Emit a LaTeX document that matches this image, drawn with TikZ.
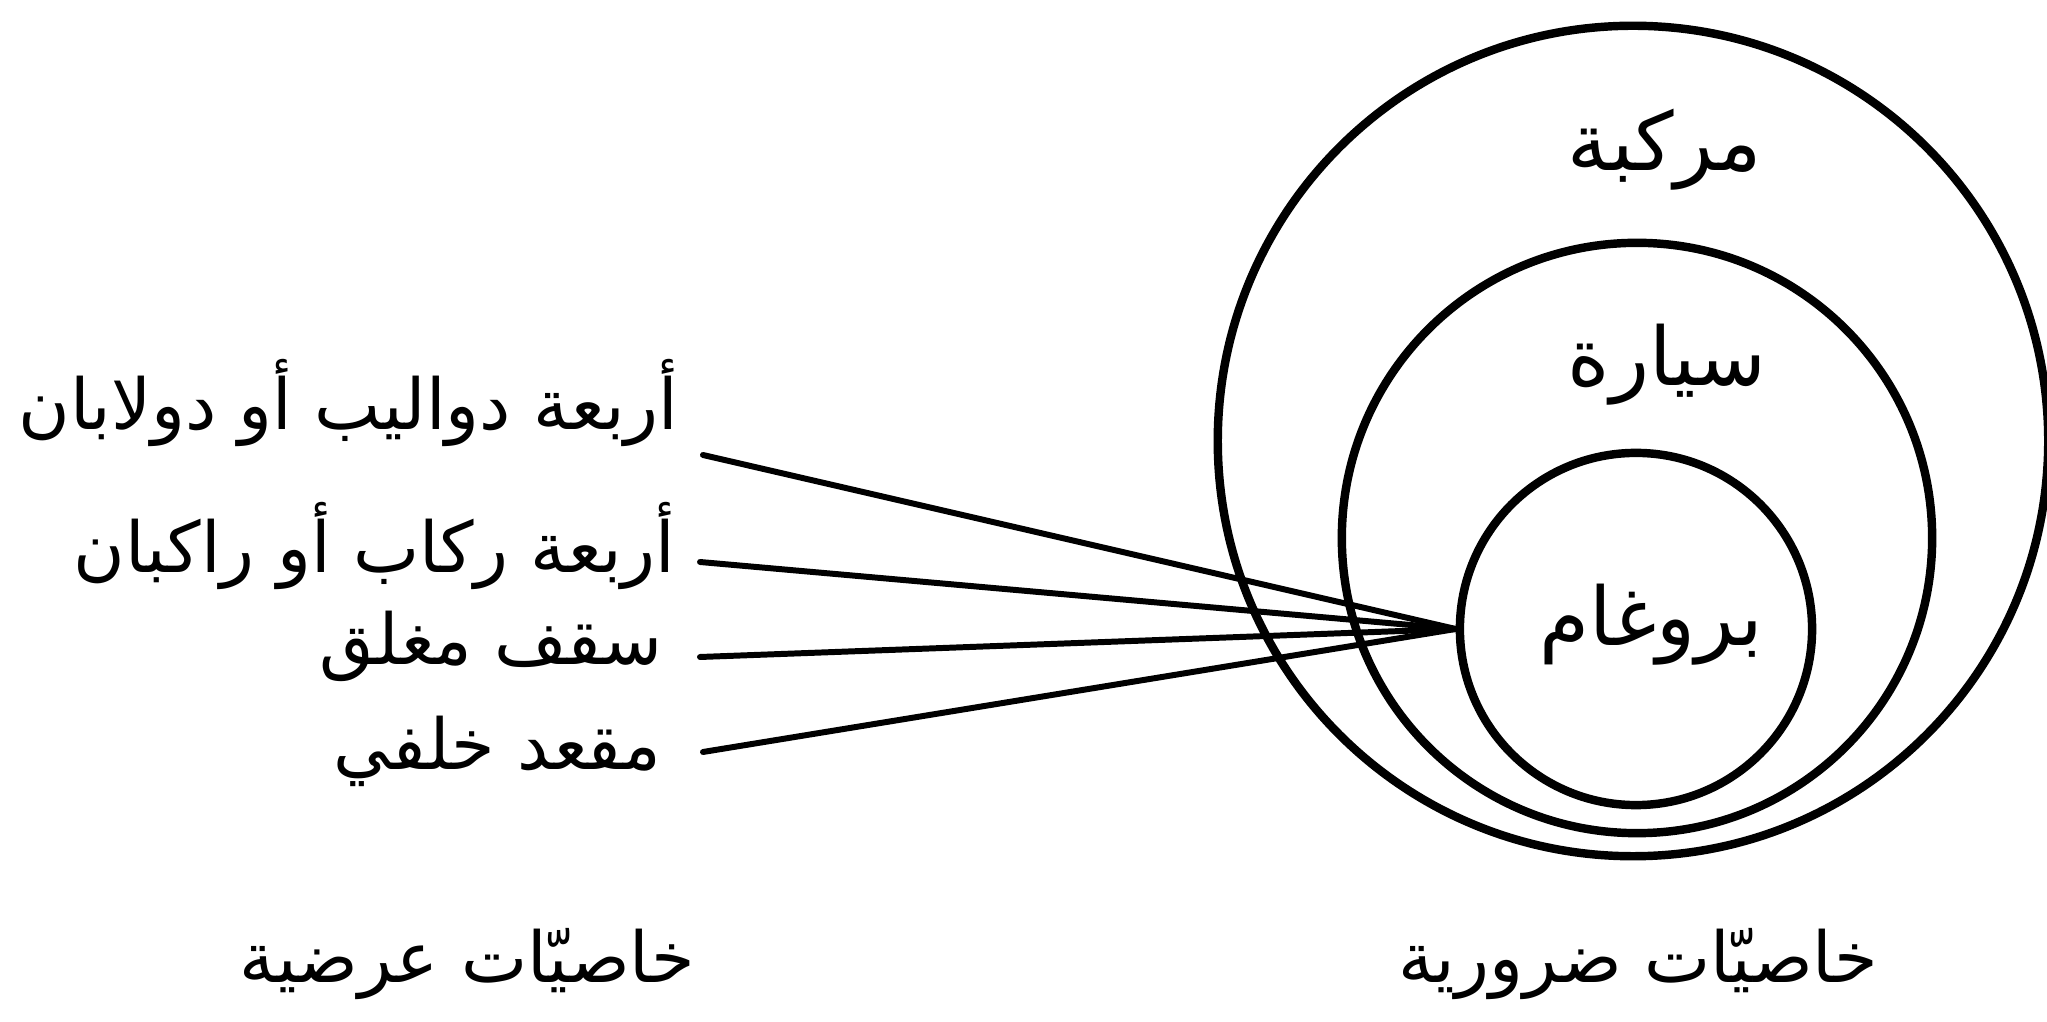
\documentclass[tikz,border=0pt]{standalone}
\usepackage{fontspec}
\newfontfamily\arabicfont[Script=Arabic]{DejaVu Sans}
\TeXXeTstate=1
\usetikzlibrary{positioning}
\newcommand{\artext}[1]{{\arabicfont\beginR #1\endR}}
\tikzset{
  setring/.style={draw,circle,line width=2.4pt,inner sep=0pt},
  setname/.style={inner sep=0pt,font=\fontsize{23}{27}\selectfont},
  traitlabel/.style={anchor=base east,inner sep=0pt,font=\fontsize{20}{24}\selectfont},
  grouplabel/.style={anchor=base,inner sep=0pt,font=\fontsize{20}{24}\selectfont},
  traitlink/.style={line width=1.7pt,line cap=round}
}
\begin{document}
\begin{tikzpicture}[x=0.01cm,y=-0.01cm]
\path[use as bounding box] (0,0) rectangle (2047,1022);
% nested sets
\node[setring,minimum size=8.3cm] (vehicle) at (1633,441) {};
\node[setring,minimum size=5.9cm] (car) at (1637,538) {};
\node[setring,minimum size=3.52cm] (brougham) at (1636,629) {};
\node[setname] (vehiclename) at (1665,150) {\artext{مركبة}};
\node[setname] (carname) at (1667,365) {\artext{سيارة}};
\node[setname] (broughamname) at (1651,625) {\artext{بروغام}};
% accidental traits
\node[traitlabel] (wheels) at (679,430) {\artext{أربعة دواليب أو دولابان}};
\node[traitlabel] (riders) at (676,573) {\artext{أربعة ركاب أو راكبان}};
\node[traitlabel] (roof) at (663,665) {\artext{سقف مغلق}};
\node[traitlabel] (backseat) at (662,770) {\artext{مقعد خلفي}};
\coordinate (wheels-link) at (703,455);
\coordinate (riders-link) at (700,562);
\coordinate (roof-link) at (700,657);
\coordinate (backseat-link) at (703,752);
\foreach \t in {wheels,riders,roof,backseat}
  \draw[traitlink] (\t-link) -- (brougham.west);
% captions
\node[grouplabel] (accidental) at (467,983) {\artext{خاصيّات عرضية}};
\node[grouplabel] (essential) at (1638,983) {\artext{خاصيّات ضرورية}};
\end{tikzpicture}
\end{document}
